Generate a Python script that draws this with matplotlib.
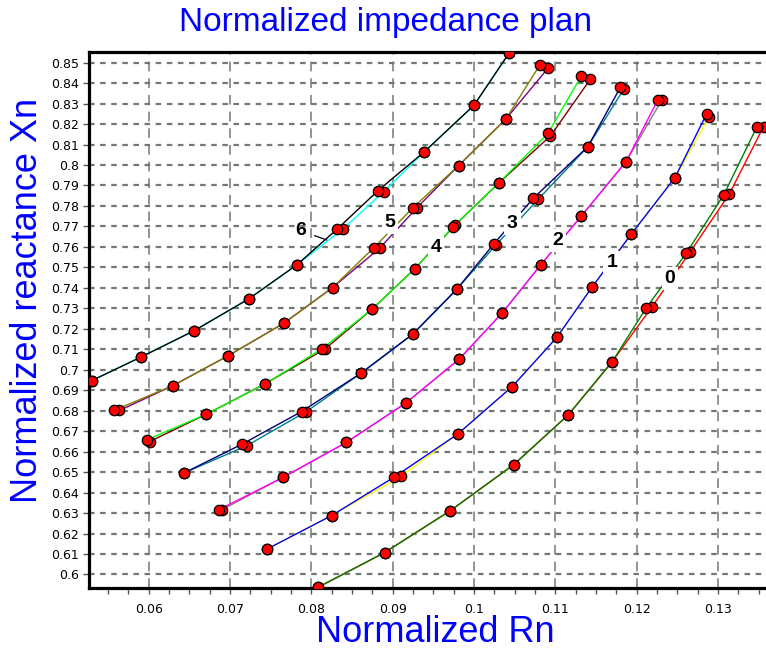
import matplotlib
matplotlib.use("Agg")
import matplotlib.pyplot as plt
import numpy as np
from matplotlib.ticker import MultipleLocator, FixedLocator

plt.rcParams['lines.scale_dashes'] = False

# curve 0 .. 6, two series per curve (a, b)
y0a = [0.5937, 0.6107, 0.6312, 0.6537, 0.678, 0.704, 0.7304, 0.7569, 0.7854, 0.8188]
y0b = [0.5937, 0.6107, 0.6312, 0.6537, 0.678, 0.704, 0.7308, 0.7577, 0.7859, 0.8188]
x0a = [0.0808, 0.0890, 0.0971, 0.1049, 0.1116, 0.1170, 0.1212, 0.1261, 0.1307, 0.1348]
x0b = [0.0808, 0.0890, 0.0971, 0.1049, 0.1116, 0.1170, 0.1219, 0.1266, 0.1314, 0.1356]

y1a = [0.6125, 0.6288, 0.6476, 0.6686, 0.6918, 0.7159, 0.7403, 0.7661, 0.7938, 0.8250]
y1b = [0.6125, 0.6288, 0.6479, 0.6686, 0.6918, 0.7159, 0.7403, 0.7661, 0.7938, 0.8236]
x1a = [0.0746, 0.0825, 0.0902, 0.0980, 0.1047, 0.1102, 0.1145, 0.1193, 0.1247, 0.1286]
x1b = [0.0746, 0.0825, 0.0910, 0.0980, 0.1047, 0.1102, 0.1145, 0.1193, 0.1247, 0.1289]

y2a = [0.6316, 0.6474, 0.6645, 0.6837, 0.7053, 0.7279, 0.7512, 0.7751, 0.8017, 0.8318]
y2b = [0.6316, 0.6474, 0.6645, 0.6837, 0.7053, 0.7279, 0.7512, 0.7751, 0.8017, 0.8318]
x2a = [0.0686, 0.0765, 0.0843, 0.0916, 0.0982, 0.1035, 0.1082, 0.1132, 0.1187, 0.1226]
x2b = [0.0690, 0.0765, 0.0843, 0.0916, 0.0982, 0.1035, 0.1082, 0.1132, 0.1187, 0.1231]

y3a = [0.6495, 0.6637, 0.6796, 0.6983, 0.7175, 0.7394, 0.7613, 0.7838, 0.8090, 0.8380]
y3b = [0.6495, 0.6630, 0.6796, 0.6983, 0.7175, 0.7394, 0.7610, 0.7833, 0.8090, 0.8370]
x3a = [0.0643, 0.0715, 0.0788, 0.0861, 0.0925, 0.0979, 0.1024, 0.1073, 0.1140, 0.1180]
x3b = [0.0643, 0.0721, 0.0794, 0.0861, 0.0925, 0.0979, 0.1027, 0.1079, 0.1140, 0.1184]

y4a = [0.6658, 0.6783, 0.6931, 0.7102, 0.7297, 0.7493, 0.7697, 0.7914, 0.8155, 0.8435]
y4b = [0.6649, 0.6783, 0.6931, 0.7102, 0.7297, 0.7493, 0.7708, 0.7914, 0.8142, 0.8419]
x4a = [0.0598, 0.0671, 0.0743, 0.0813, 0.0875, 0.0927, 0.0974, 0.1031, 0.1091, 0.1132]
x4b = [0.0601, 0.0671, 0.0743, 0.0817, 0.0875, 0.0927, 0.0977, 0.1031, 0.1094, 0.1143]

y5a = [0.6801, 0.6923, 0.7069, 0.7227, 0.7401, 0.7597, 0.7792, 0.7997, 0.8224, 0.8489]
y5b = [0.6801, 0.6923, 0.7069, 0.7227, 0.7401, 0.7594, 0.7792, 0.7997, 0.8224, 0.8473]
x5a = [0.0557, 0.0630, 0.0698, 0.0766, 0.0826, 0.0877, 0.0925, 0.0981, 0.1039, 0.1081]
x5b = [0.0564, 0.0630, 0.0698, 0.0766, 0.0826, 0.0884, 0.0930, 0.0981, 0.1039, 0.1091]

y6a = [0.6947, 0.7063, 0.7191, 0.7346, 0.7512, 0.7688, 0.7875, 0.8065, 0.8292, 0.8546]
y6b = [0.6947, 0.7063, 0.7191, 0.7346, 0.7512, 0.7688, 0.7870, 0.8065, 0.8292, 0.8546]
x6a = [0.0530, 0.0591, 0.0656, 0.0723, 0.0782, 0.0832, 0.0882, 0.0939, 0.1000, 0.1043]
x6b = [0.0530, 0.0591, 0.0656, 0.0723, 0.0782, 0.0839, 0.0889, 0.0939, 0.1000, 0.1043]

curve_names = ["0", "1", "2", "3", "4", "5", "6"]
# series a is drawn on top of series b
colors_a = ["#008000", "#0000ff", "#ff00ff", "#000080", "#00ff00", "#808000", "#000000"]
colors_b = ["#ff0000", "#ffff00", "#808080", "#008080", "#800000", "#800080", "#00ffff"]
# where each curve number is written
label_x = [0.1241, 0.11693, 0.11029, 0.10471, 0.09533, 0.08967, 0.07873]
label_y = [0.7445, 0.7523, 0.7631, 0.7716, 0.7597, 0.7719, 0.7678]
# curve 6 has a small leader line to this point
lead6 = (0.0819, 0.7634)

yticks = np.round(np.arange(0.60, 0.851, 0.01), 2)
xticks = np.round(np.arange(0.06, 0.131, 0.01), 2)

xa_all = [x0a, x1a, x2a, x3a, x4a, x5a, x6a]
xb_all = [x0b, x1b, x2b, x3b, x4b, x5b, x6b]
ya_all = [y0a, y1a, y2a, y3a, y4a, y5a, y6a]
yb_all = [y0b, y1b, y2b, y3b, y4b, y5b, y6b]

fig = plt.figure(figsize=(7.66, 6.54), dpi=100)
ax = fig.add_axes([89 / 766, 66 / 654, 1 - 89 / 766, 536 / 654])

for i in range(len(curve_names)):
    ax.plot(xb_all[i], yb_all[i], color=colors_b[i], lw=1.0, zorder=3)
    ax.plot(xa_all[i], ya_all[i], color=colors_a[i], lw=1.0, zorder=3)
    ax.plot(xb_all[i], yb_all[i], 'o', ms=7.5, mfc='#ff0000', mec='black', mew=0.9, zorder=5)
    ax.plot(xa_all[i], ya_all[i], 'o', ms=7.5, mfc='#ff0000', mec='black', mew=0.9, zorder=5)

lab_font = dict(family=['Liberation Sans Narrow', 'Liberation Sans'], fontsize=14,
                fontweight='bold', color='black')
for i in range(len(curve_names)):
    if curve_names[i] == "6":
        ax.annotate(curve_names[i], xy=lead6, xytext=(label_x[i], label_y[i]),
                    ha='center', va='center', zorder=6,
                    arrowprops=dict(arrowstyle='-', color='black', lw=0.9,
                                    shrinkA=4, shrinkB=0), **lab_font)
    else:
        ax.text(label_x[i], label_y[i], curve_names[i], ha='center', va='center', zorder=6,
                bbox=dict(boxstyle='square,pad=0.15', fc='white', ec='none'), **lab_font)

ax.set_xlim(0.05266, 0.1359)
ax.set_ylim(0.5934, 0.8552)

ax.yaxis.set_major_locator(FixedLocator(yticks))
ax.set_yticklabels([f"{v:g}" for v in yticks])
ax.xaxis.set_major_locator(FixedLocator(xticks))
ax.set_xticklabels([f"{v:g}" for v in xticks])
ax.xaxis.set_minor_locator(MultipleLocator(0.0025))

ax.tick_params(axis='both', labelsize=9, colors='black')
ax.tick_params(axis='y', which='major', length=4, width=1, color='#555555', pad=3)
ax.tick_params(axis='x', which='both', length=4, width=1, color='#555555', pad=7)

# dashed grid, horizontal lines a bit heavier
ax.grid(True, axis='y', color='#717a71', lw=1.6, linestyle=(0, (4, 4)), zorder=1)
ax.grid(True, axis='x', color='#717a71', lw=1.1, linestyle=(0, (7, 5)), zorder=1)
ax.set_axisbelow(True)

for s in ['left', 'bottom', 'top']:
    ax.spines[s].set_linewidth(2.3)
    ax.spines[s].set_color('black')
ax.spines['right'].set_visible(False)

blue_font = dict(family='Liberation Sans', color='#0000ff')
fig.text(385.5 / 766, 1 - 22 / 654, "Normalized impedance plan", ha='center', va='center',
         fontsize=24, **blue_font)
fig.text(435.5 / 766, 1 - 633 / 654, "Normalized Rn", ha='center', va='center',
         fontsize=26, **blue_font)
fig.text(28 / 766, 1 - 300 / 654, "Normalized reactance Xn", ha='center', va='center',
         rotation=90, fontsize=26, **blue_font)

fig.savefig("out.png", dpi=100)
